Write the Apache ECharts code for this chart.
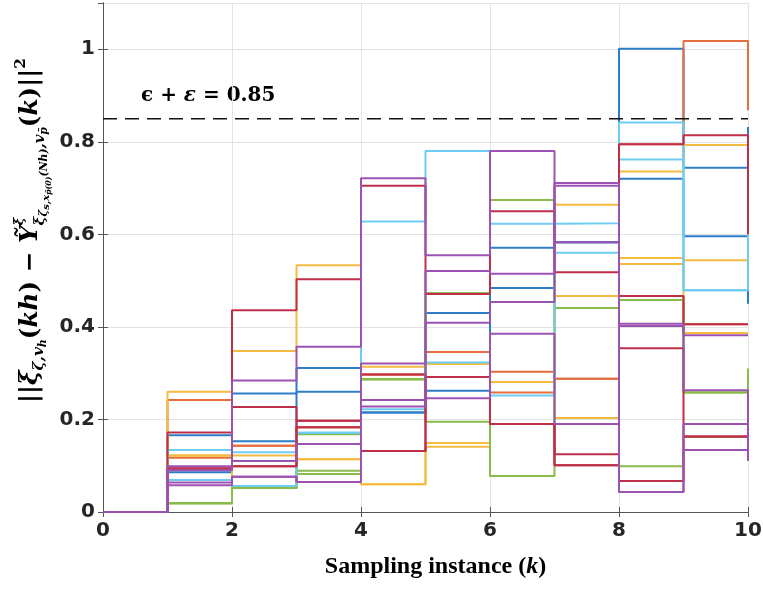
<!DOCTYPE html>
<html><head><meta charset="utf-8">
<script src="https://cdn.jsdelivr.net/npm/echarts@6/dist/echarts.min.js"></script>
<style>html,body{margin:0;padding:0;background:#fff}#c{width:763px;height:590px}</style>
</head><body><div id="c"></div>
<script>
// ---- data ----
const xSteps = [0, 1, 2, 3, 4, 5, 6, 7, 8, 9, 10];
const xTicks = ['0', '2', '4', '6', '8', '10'];
const yTicks = ['0', '0.2', '0.4', '0.6', '0.8', '1'];
const threshold = 0.85;

const blue1   = [0, 0.166, 0.256, 0.311, 0.215, 0.430, 0.571, 0.583, 1.001, 0.744, 0.832];
const blue2   = [0, 0.086, 0.153, 0.260, 0.215, 0.262, 0.484, 0.583, 0.720, 0.596, 0.450];
const orange1 = [0, 0.242, 0.143, 0.183, 0.297, 0.346, 0.303, 0.288, 0.795, 1.018, 0.868];
const orange2 = [0, 0.117, 0.143, 0.183, 0.297, 0.346, 0.258, 0.288, 0.467, 0.406, 0.406];
const yellow1 = [0, 0.260, 0.348, 0.533, 0.314, 0.320, 0.281, 0.664, 0.736, 0.793, 0.793];
const yellow2 = [0, 0.122, 0.122, 0.114, 0.060, 0.149, 0.281, 0.467, 0.549, 0.544, 0.544];
const yellow3 = [0, 0.122, 0.052, 0.114, 0.060, 0.141, 0.281, 0.203, 0.536, 0.387, 0.387];
const green1  = [0, 0.019, 0.052, 0.168, 0.287, 0.473, 0.674, 0.441, 0.458, 0.258, 0.310];
const green2  = [0, 0.019, 0.052, 0.082, 0.287, 0.195, 0.078, 0.441, 0.099, 0.162, 0.162];
const green3  = [0, 0.019, 0.052, 0.089, 0.287, 0.473, 0.674, 0.441, 0.458, 0.258, 0.258];
const lblue1  = [0, 0.134, 0.129, 0.171, 0.628, 0.780, 0.623, 0.624, 0.842, 0.479, 0.640];
const lblue2  = [0, 0.069, 0.056, 0.171, 0.222, 0.323, 0.252, 0.560, 0.762, 0.479, 0.479];
const red1    = [0, 0.172, 0.436, 0.503, 0.705, 0.471, 0.650, 0.518, 0.795, 0.814, 0.600];
const red2    = [0, 0.094, 0.227, 0.197, 0.132, 0.292, 0.190, 0.125, 0.467, 0.406, 0.406];
const red3    = [0, 0.094, 0.099, 0.183, 0.297, 0.292, 0.190, 0.101, 0.354, 0.163, 0.163];
const red4    = [0, 0.094, 0.099, 0.197, 0.132, 0.292, 0.190, 0.101, 0.067, 0.163, 0.163];
const purple1 = [0, 0.099, 0.284, 0.357, 0.721, 0.555, 0.780, 0.583, 0.407, 0.382, 0.382];
const purple2 = [0, 0.090, 0.110, 0.147, 0.321, 0.521, 0.515, 0.711, 0.402, 0.263, 0.110];
const purple3 = [0, 0.064, 0.076, 0.065, 0.242, 0.409, 0.454, 0.705, 0.043, 0.190, 0.190];
const purple4 = [0, 0.058, 0.076, 0.065, 0.228, 0.246, 0.385, 0.190, 0.043, 0.134, 0.134];

// ---- styles ----
const C = {blue:'#2d7dc8', orange:'#e56d3f', yellow:'#f4bb40', green:'#88bb4a', lblue:'#6ecbf2', red:'#bf2f4a', purple:'#9c52b0'};
const seriesDefs = [
  [blue1, C.blue], [blue2, C.blue],
  [orange1, C.orange], [orange2, C.orange],
  [yellow1, C.yellow], [yellow2, C.yellow], [yellow3, C.yellow],
  [green1, C.green], [green2, C.green], [green3, C.green],
  [lblue1, C.lblue], [lblue2, C.lblue],
  [red1, C.red], [red2, C.red], [red3, C.red], [red4, C.red],
  [purple1, C.purple], [purple2, C.purple], [purple3, C.purple], [purple4, C.purple]
];

const series = seriesDefs.map(([vals, col]) => ({
  type: 'line', step: 'end', showSymbol: false, silent: true, clip: true,
  data: xSteps.map((x, i) => [x, vals[i]]),
  lineStyle: {color: col, width: 2}, itemStyle: {color: col}
}));
series.push({
  type: 'line', showSymbol: false, silent: true,
  data: [[xSteps[0], threshold], [xSteps[xSteps.length - 1], threshold]],
  lineStyle: {color: '#111', width: 1.6, type: [14, 8]}
});

// ---- y axis label laid out as math ----
const fam = "'DejaVu Serif'";
const yTokens = [
  {t:'||', f:1}, {t:'ξ', f:1, it:1},
  {t:'ζ,v', f:0.62, it:1, dy:-0.22}, {t:'h', f:0.45, it:1, dy:-0.36},
  {t:'(', f:1}, {t:'kh', f:1, it:1}, {t:')', f:1},
  {t:' − ', f:1}, {t:'Ỹ', f:1, it:1},
  {t:'ξ\u0304', f:0.55, it:1, dy:0.6, na:1},
  {t:'ξ', f:0.62, it:1, dy:-0.25}, {t:'ζ', f:0.46, it:1, dy:-0.4},
  {t:'s,x', f:0.4, it:1, dy:-0.46}, {t:'p\u0304(0)', f:0.32, it:1, dy:-0.55},
  {t:'(Nh)', f:0.44, it:1, dy:-0.4}, {t:',v', f:0.6, it:1, dy:-0.25},
  {t:'p\u0304', f:0.44, it:1, dy:-0.4},
  {t:'(', f:1}, {t:'k', f:1, it:1}, {t:')', f:1}, {t:'||', f:1},
  {t:'2', f:0.62, dy:0.5}
];
const ctx = document.createElement('canvas').getContext('2d');
function measure(tk, S) {
  ctx.font = (tk.it ? 'italic ' : '') + 'bold ' + (S * tk.f) + 'px ' + fam;
  return ctx.measureText(tk.t).width;
}
function layout(S) {
  let x = 0; const out = [];
  yTokens.forEach(tk => {
    const size = S * tk.f;
    out.push({t: tk.t, x, size, it: tk.it, base: -(tk.dy || 0) * S});
    if (!tk.na) x += measure(tk, S);
  });
  return {out, W: x};
}
let S = 22;
const W0 = layout(S).W;
S = S * 345 / W0;
const yl = layout(S);
const yLabelChildren = yl.out.map(p => ({
  type: 'text', x: p.x, y: p.base - 0.3 * p.size,
  style: {text: p.t, fontFamily: 'DejaVu Serif', fontWeight: 'bold', fontStyle: p.it ? 'italic' : 'normal',
          fontSize: p.size, fill: '#000', textAlign: 'left', textVerticalAlign: 'middle', align: 'left', verticalAlign: 'middle'}
}));

const chart = echarts.init(document.getElementById('c'), null, {renderer: 'canvas'});
const axisLbl = {fontFamily: 'DejaVu Sans', fontWeight: 'bold', fontSize: 20, color: '#262626'};
chart.setOption({
  animation: false,
  backgroundColor: '#fff',
  grid: {left: 103, right: 15, top: 3, bottom: 78, containLabel: false, outerBoundsMode: 'none'},
  xAxis: [{
    type: 'value', min: 0, max: 10, interval: 2, position: 'bottom',
    axisLine: {show: true, lineStyle: {color: '#555', width: 1}},
    axisTick: {show: true, inside: true, length: 5, lineStyle: {color: '#555'}},
    axisLabel: Object.assign({margin: 9, formatter: v => xTicks[Math.round(v / 2)]}, axisLbl),
    splitLine: {show: true, lineStyle: {color: '#e3e3e3', width: 1}},
    name: 'Sampling instance ({i|k})', nameLocation: 'middle', nameGap: 43,
    nameTextStyle: {fontFamily: 'Liberation Serif', fontWeight: 'bold', fontSize: 24, color: '#000', padding: [0, 0, 0, 20],
      rich: {i: {fontFamily: 'Liberation Serif', fontWeight: 'bold', fontStyle: 'italic', fontSize: 24, color: '#000'}}}
  }, {
    type: 'value', min: 0, max: 10, interval: 2, position: 'top',
    axisLine: {show: true, lineStyle: {color: '#555', width: 1}},
    axisTick: {show: true, inside: true, length: 5, lineStyle: {color: '#555'}},
    axisLabel: {show: false}, splitLine: {show: false}
  }],
  yAxis: [{
    type: 'value', min: 0, max: 1.1, interval: 0.2, position: 'left',
    axisLine: {show: true, lineStyle: {color: '#555', width: 1}},
    axisTick: {show: true, inside: true, length: 5, lineStyle: {color: '#555'}},
    axisLabel: Object.assign({margin: 8, showMaxLabel: false,
      formatter: v => { const k = Math.round(v / 0.2); return Math.abs(v - k * 0.2) < 1e-6 ? yTicks[k] : ''; }}, axisLbl),
    splitLine: {show: true, lineStyle: {color: '#e3e3e3', width: 1}}
  }, {
    type: 'value', min: 0, max: 1.1, interval: 0.2, position: 'right',
    axisLine: {show: true, lineStyle: {color: '#555', width: 1}},
    axisTick: {show: true, inside: true, length: 5, lineStyle: {color: '#555'}},
    axisLabel: {show: false}, splitLine: {show: false}
  }],
  series: series,
  graphic: [
    {type: 'group', x: 38, y: 403, rotation: Math.PI / 2, children: yLabelChildren},
    {type: 'text', x: 141, y: 96, style: {
      text: '{a|ϵ} + {b|ε} = 0.85', fill: '#000', fontFamily: 'DejaVu Serif', fontWeight: 'bold', fontSize: 20,
      textAlign: 'left', textVerticalAlign: 'middle', align: 'left', verticalAlign: 'middle',
      rich: {a: {fontFamily: 'DejaVu Serif', fontWeight: 'bold', fontSize: 20},
             b: {fontFamily: 'DejaVu Serif', fontWeight: 'bold', fontStyle: 'italic', fontSize: 20}}}}
  ]
});
</script>
</body></html>
